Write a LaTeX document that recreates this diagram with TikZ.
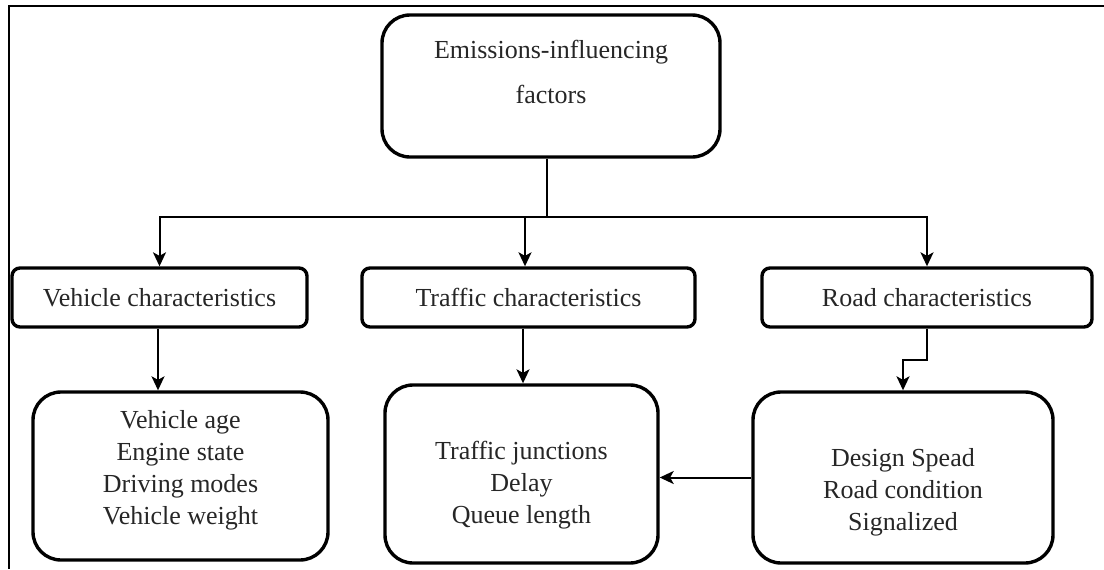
\documentclass[tikz,border=0pt]{standalone}
\usepackage{fontspec}
\setmainfont{Liberation Serif}
\usetikzlibrary{arrows.meta}
\tikzset{
 bigbox/.style={draw,line width=1.7pt,rounded corners=14pt,inner sep=0pt},
 catbox/.style={draw,line width=1.7pt,rounded corners=4pt,inner sep=0pt,minimum height=29.5pt,
   align=center,font=\fontsize{13}{16}\selectfont,text=black!85},
 conn/.style={line width=1pt},
 arr/.style={line width=1pt,-{Stealth[length=7pt,width=6.5pt,inset=1.8pt]}},
 txt/.style={align=center,font=\fontsize{13}{16}\selectfont,text=black!85}
}
\begin{document}
\begin{tikzpicture}[x=0.5pt,y=-0.5pt]
\useasboundingbox (0,0) rectangle (1104,569);
\draw[line width=1.2pt] (8,6)--(1104,6);
\draw[line width=1.1pt] (9,6)--(9,569);

\node[bigbox,minimum width=169pt,minimum height=71pt] (emis) at (551,86) {};
\node[txt,font=\fontsize{13}{22.5}\selectfont] (emistxt) at (551,72) {Emissions-influencing\\factors};

\node[catbox,minimum width=147.5pt] (vchar) at (159.5,297.5) {Vehicle characteristics};
\node[catbox,minimum width=166.5pt] (tchar) at (528.5,297.5) {Traffic characteristics};
\node[catbox,minimum width=165pt] (rchar) at (927,297.5) {Road characteristics};

\node[bigbox,minimum width=147.5pt,minimum height=84pt] (vlist) at (180.5,476) {};
\node[txt] (vlisttxt) at (180.5,470) {Vehicle age\\Engine state\\Driving modes\\Vehicle weight};
\node[bigbox,minimum width=136.5pt,minimum height=89pt] (tlist) at (521.5,474) {};
\node[txt] (tlisttxt) at (521.5,485) {Traffic junctions\\Delay\\Queue length};
\node[bigbox,minimum width=150pt,minimum height=85.5pt] (rlist) at (903,477.5) {};
\node[txt] (rlisttxt) at (903,492) {Design Spead\\Road condition\\Signalized};

\coordinate (bus) at (547,217);
\draw[conn] (bus |- emis.south)--(bus);
\draw[conn] (bus)--(525,217);
\draw[arr] (bus) -| (vchar);
\draw[arr] (525,217) -- (525,217 |- tchar.north);
\draw[arr] (bus) -| (rchar);

\draw[arr] (vchar.south -| 158,0) -- (158,0 |- vlist.north);
\draw[arr] (tchar.south -| 523,0) -- (523,0 |- tlist.north);
\draw[arr] (rchar.south) -- ++(0,31) -| (rlist.north);
\draw[arr] (rlist.west) -- (rlist.west -| tlist.east);
\end{tikzpicture}
\end{document}
